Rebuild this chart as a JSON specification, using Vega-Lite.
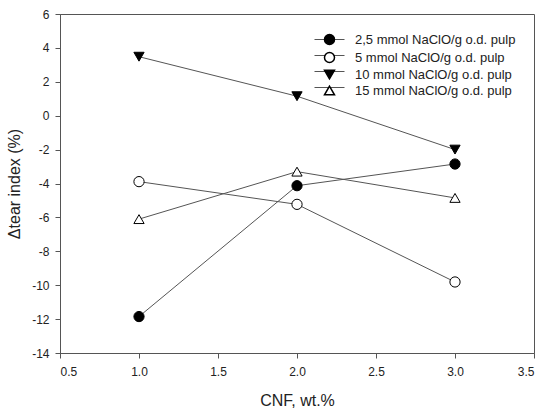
{
  "$schema": "https://vega.github.io/schema/vega-lite/v6.json",
  "autosize": {"type": "none"},
  "width": 474,
  "height": 339,
  "padding": {"left": 60, "top": 14, "right": 16, "bottom": 62},
  "background": "white",
  "data": {
    "values": [
      {"series": "2,5 mmol NaClO/g o.d. pulp", "cnf": 1, "value": -11.85},
      {"series": "2,5 mmol NaClO/g o.d. pulp", "cnf": 2, "value": -4.13},
      {"series": "2,5 mmol NaClO/g o.d. pulp", "cnf": 3, "value": -2.85},
      {"series": "5 mmol NaClO/g o.d. pulp", "cnf": 1, "value": -3.89},
      {"series": "5 mmol NaClO/g o.d. pulp", "cnf": 2, "value": -5.23},
      {"series": "5 mmol NaClO/g o.d. pulp", "cnf": 3, "value": -9.81},
      {"series": "10 mmol NaClO/g o.d. pulp", "cnf": 1, "value": 3.48},
      {"series": "10 mmol NaClO/g o.d. pulp", "cnf": 2, "value": 1.15},
      {"series": "10 mmol NaClO/g o.d. pulp", "cnf": 3, "value": -2.0},
      {"series": "15 mmol NaClO/g o.d. pulp", "cnf": 1, "value": -6.1},
      {"series": "15 mmol NaClO/g o.d. pulp", "cnf": 2, "value": -3.3},
      {"series": "15 mmol NaClO/g o.d. pulp", "cnf": 3, "value": -4.85}
    ]
  },
  "encoding": {
    "x": {
      "field": "cnf", "type": "quantitative",
      "scale": {"domain": [0.5, 3.5], "nice": false, "zero": false},
      "axis": {"values": [0.5, 1, 1.5, 2, 2.5, 3, 3.5], "format": ".1f", "title": "CNF, wt.%"}
    },
    "y": {
      "field": "value", "type": "quantitative",
      "scale": {"domain": [-14, 6], "nice": false, "zero": false},
      "axis": {"values": [-14, -12, -10, -8, -6, -4, -2, 0, 2, 4, 6], "title": "Δtear index (%)", "labelExpr": "replace(datum.label, '−', '-')"}
    }
  },
  "layer": [
    {
      "mark": {"type": "line", "strokeWidth": 1},
      "encoding": {
        "color": {
          "field": "series", "type": "nominal", "title": null, "sort": null,
          "scale": {"range": ["#555555", "#555555", "#555555", "#555555"]},
          "legend": {
            "orient": "none",
            "legendX": 263,
            "legendY": 19,
            "zindex": 0,
            "symbolType": "M-3,0L3,0M-1,-1L-1,-1M1,1L1,1",
            "symbolSize": 100,
            "symbolStrokeWidth": 1,
            "labelOffset": 19,
            "labelFontSize": 13,
            "labelFont": "Liberation Sans",
            "labelColor": "transparent",
            "labelLimit": 300,
            "rowPadding": 1
          }
        }
      }
    },
    {
      "mark": {"type": "point", "filled": false, "stroke": "black", "strokeWidth": 1, "opacity": 1, "size": 105},
      "encoding": {
        "shape": {
          "field": "series", "type": "nominal", "title": null,
          "scale": {
            "domain": ["2,5 mmol NaClO/g o.d. pulp", "5 mmol NaClO/g o.d. pulp", "10 mmol NaClO/g o.d. pulp", "15 mmol NaClO/g o.d. pulp"],
            "range": ["circle", "circle", "triangle-down", "triangle-up"]
          },
          "legend": {
            "orient": "none",
            "legendX": 263,
            "legendY": 19,
            "zindex": 1,
            "symbolSize": 100,
            "labelOffset": 19,
            "labelFontSize": 13,
            "labelFont": "Liberation Sans",
            "labelColor": "#222222",
            "labelLimit": 300,
            "rowPadding": 1,
            "encode": {
              "symbols": {
                "update": {
                  "stroke": {"value": "black"},
                  "strokeWidth": {"value": 1},
                  "opacity": {"value": 1}
                }
              }
            }
          }
        },
        "fill": {
          "field": "series", "type": "nominal", "legend": null,
          "scale": {
            "domain": ["2,5 mmol NaClO/g o.d. pulp", "5 mmol NaClO/g o.d. pulp", "10 mmol NaClO/g o.d. pulp", "15 mmol NaClO/g o.d. pulp"],
            "range": ["black", "white", "black", "white"]
          }
        }
      }
    }
  ],
  "config": {
    "view": {"stroke": "#555555", "strokeWidth": 1},
    "axis": {
      "grid": false,
      "domainColor": "#555555",
      "tickColor": "#555555",
      "tickSize": 5,
      "labelFont": "Liberation Sans",
      "labelFontSize": 12,
      "labelColor": "#222222",
      "labelPadding": 6,
      "titleFont": "Liberation Sans",
      "titleFontSize": 16,
      "titleFontWeight": "normal",
      "titleColor": "#222222"
    },
    "axisX": {"labelPadding": 8, "titlePadding": 15},
    "axisY": {"titlePadding": 9}
  }
}
